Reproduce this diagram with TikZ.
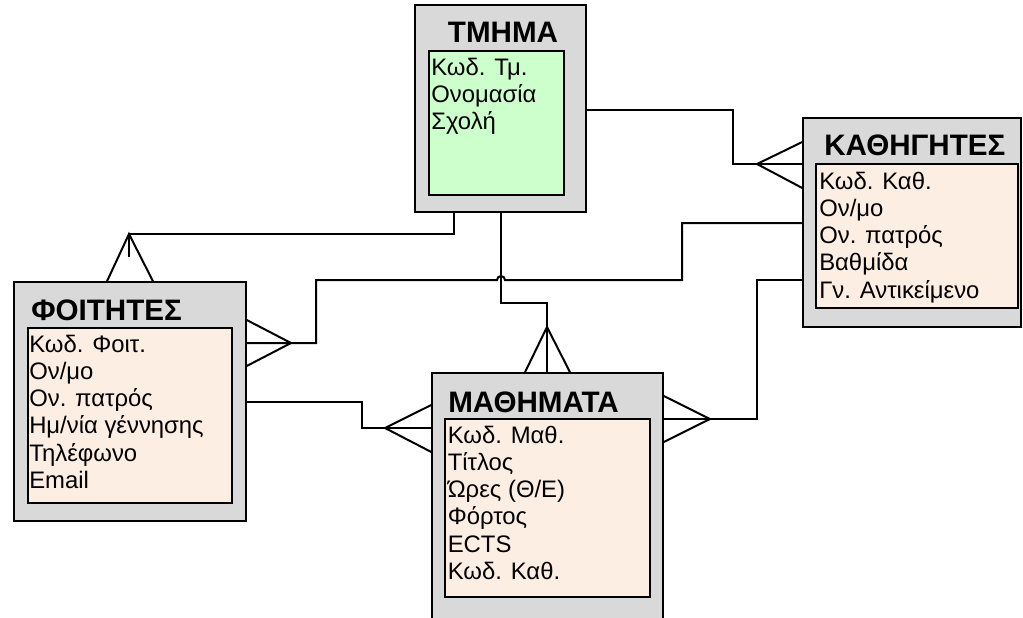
\documentclass[tikz,border=0pt]{standalone}
\usepackage{fontspec}
\setmainfont{Liberation Sans}
\usepackage{xcolor}
\usetikzlibrary{fit}
\definecolor{boxgray}{RGB}{217,217,217}
\definecolor{keygreen}{RGB}{204,255,204}
\definecolor{rowpeach}{RGB}{253,238,227}
\tikzset{%
    entity/.style={draw,line width=1.1pt,fill=boxgray,inner sep=0pt},
    attrbox/.style={draw,line width=0.9pt,inner sep=0pt},
    etitle/.style={inner sep=0pt,anchor=base west,font=\fontsize{22.2}{26}\selectfont\bfseries},
    attr/.style={inner sep=0pt,anchor=base west,font=\fontsize{17.9}{21}\selectfont},
    link/.style={line width=1.5pt,line join=miter},
}
\begin{document}
\begin{tikzpicture}[x=0.75pt,y=-0.75pt]
      \path[use as bounding box] (0,0) rectangle (1023,617);
      \clip (0,0) rectangle (1023,617);

      \node [entity,fit={(415,5) (586,212)}] (tmima) {};
      \node [attrbox,fill=keygreen,fit={(429,51) (564,195)}] (tmima-in) {};
      \node [etitle,anchor=base] (tmima-t) at (503,43) {ΤΜΗΜΑ};
      \foreach \t [count=\i] in {Κωδ. Τμ.,Ονομασία,Σχολή}
        \node [attr] (tmima-\i) at (431,47.7+27.3*\i) {\t};

      \node [entity,fit={(803,118) (1021,327)}] (kath) {};
      \node [attrbox,fill=rowpeach,fit={(816,164) (1018,308)}] (kath-in) {};
      \node [etitle] (kath-t) at (824,155) {ΚΑΘΗΓΗΤΕΣ};
      \foreach \t [count=\i] in {Κωδ. Καθ.,Ον/μο,Ον. πατρός,Βαθμίδα,Γν. Αντικείμενο}
        \node [attr] (kath-\i) at (819,161.7+27.3*\i) {\t};

      \node [entity,fit={(14,282) (246,521)}] (foit) {};
      \node [attrbox,fill=rowpeach,fit={(28,328) (232,503)}] (foit-in) {};
      \node [etitle] (foit-t) at (31,320) {ΦΟΙΤΗΤΕΣ};
      \foreach \t [count=\i] in {Κωδ. Φοιτ.,Ον/μο,Ον. πατρός,Ημ/νία γέννησης,Τηλέφωνο,Email}
        \node [attr] (foit-\i) at (29,324.7+27.3*\i) {\t};

      \node [entity,fit={(432,373) (663,640)}] (math) {};
      \node [attrbox,fill=rowpeach,fit={(445,419) (650,597)}] (math-in) {};
      \node [etitle] (math-t) at (448,412) {ΜΑΘΗΜΑΤΑ};
      \foreach \t [count=\i] in {Κωδ. Μαθ.,Τίτλος,Ώρες (Θ/Ε),Φόρτος,ECTS,Κωδ. Καθ.}
        \node [attr] (math-\i) at (447.5,415.7+27.3*\i) {\t};

      \coordinate (tip-kt) at (757,164);
      \coordinate (tip-ft) at (129,234);
      \coordinate (tip-mt) at (547,327);
      \coordinate (tip-fk) at (291,343);
      \coordinate (tip-mk) at (710,419);
      \coordinate (tip-mf) at (385,428);

      \draw [link] (tmima.east |- 0,110) -| (733,164) -- (kath.west |- tip-kt);
      \draw [link] (kath.west |- 0,142) -- (tip-kt) -- (kath.west |- 0,188);

      \draw [link] (tmima.south -| 454,0) |- (tip-ft) -- (129,257);
      \draw [link] (foit.north -| 107,0) -- (tip-ft) -- (foit.north -| 153,0);

      \draw [link] (tmima.south -| 501,0) |- (547,303) -- (math.north -| tip-mt);
      \draw [link] (math.north -| 525,0) -- (tip-mt) -- (math.north -| 570,0);

      \draw [link] (kath.west |- 0,223) -| (682,280) -- (505,280) arc (0:-180:4) -| (316,343) -- (foit.east |- tip-fk);
      \draw [link] (foit.east |- 0,320) -- (tip-fk) -- (foit.east |- 0,366);

      \draw [link] (kath.west |- 0,280) -| (757,419) -- (math.east |- tip-mk);
      \draw [link] (math.east |- 0,396) -- (tip-mk) -- (math.east |- 0,442);

      \draw [link] (foit.east |- 0,402) -| (362,428) -- (math.west |- tip-mf);
      \draw [link] (math.west |- 0,405) -- (tip-mf) -- (math.west |- 0,452);
    \end{tikzpicture}
\end{document}
